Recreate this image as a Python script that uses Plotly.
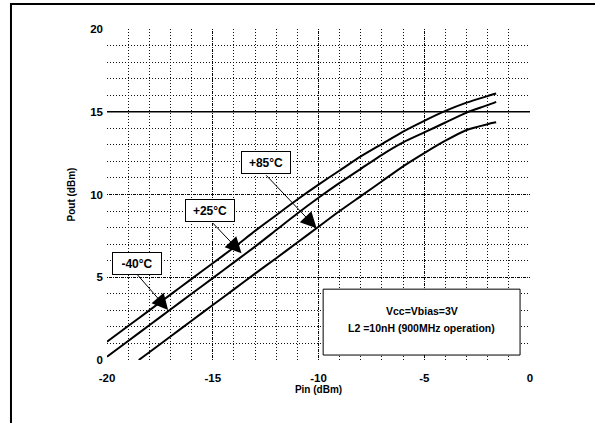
import plotly.graph_objects as go

# Data
pin_top = [-20, -19, -18, -17, -16, -15, -14, -13, -12, -11, -10, -9, -8, -7, -6, -5, -4, -3, -2, -1.6]
pout_top = [1.1, 2.05, 3.0, 3.95, 4.9, 5.85, 6.8, 7.8, 8.75, 9.7, 10.6, 11.45, 12.3, 13.05, 13.8, 14.45, 15.05, 15.55, 15.95, 16.1]

pin_mid = [-20, -19, -18, -17, -16, -15, -14, -13, -12, -11, -10, -9, -8, -7, -6, -5, -4, -3, -2, -1.6]
pout_mid = [0.2, 1.15, 2.1, 3.05, 4.0, 4.95, 5.9, 6.85, 7.85, 8.85, 9.8, 10.7, 11.55, 12.4, 13.15, 13.75, 14.35, 14.95, 15.4, 15.6]

pin_bot = [-18.5, -18, -17, -16, -15, -14, -13, -12, -11, -10, -9, -8, -7, -6, -5, -4, -3, -2, -1.6]
pout_bot = [0.0, 0.47, 1.42, 2.37, 3.32, 4.27, 5.22, 6.15, 7.1, 8.05, 9.0, 9.9, 10.8, 11.7, 12.5, 13.25, 13.9, 14.25, 14.36]

x_ticks = [-20, -15, -10, -5, 0]
y_ticks = [0, 5, 10, 15, 20]

FONT = "Liberation Sans"

fig = go.Figure()
for xs, ys in [(pin_top, pout_top), (pin_mid, pout_mid), (pin_bot, pout_bot)]:
    fig.add_trace(go.Scatter(x=xs, y=ys, mode="lines",
                             line=dict(color="black", width=2, shape="spline", smoothing=0.6),
                             showlegend=False, hoverinfo="skip"))

axis_common = dict(
    showgrid=True, gridcolor="black", gridwidth=1.3, griddash="1px,1px",
    zeroline=False, showline=False, ticks="",
    tickfont=dict(family=FONT, size=11.5, color="black", weight="bold"),
    minor=dict(dtick=1, showgrid=True, gridcolor="#111", gridwidth=1, griddash="1px,2px"),
)

fig.update_xaxes(range=[-20, 0], tickvals=x_ticks, ticktext=[str(v) for v in x_ticks],
                 ticklabelstandoff=9,
                 title=dict(text="Pin (dBm)", font=dict(family=FONT, size=10, color="black", weight="bold"), standoff=3),
                 **axis_common)
fig.update_yaxes(range=[0, 20], tickvals=y_ticks, ticktext=[str(v) for v in y_ticks],
                 ticklabelstandoff=3,
                 title=dict(text="Pout (dBm)", font=dict(family=FONT, size=10, color="black", weight="bold"), standoff=12),
                 **axis_common)

shapes = [
    # solid line at 15
    dict(type="line", xref="x", yref="y", x0=-20, x1=0, y0=15, y1=15,
         line=dict(color="black", width=1.5)),
    # info box
    dict(type="rect", xref="x", yref="y", x0=-9.78, x1=-0.47, y0=0.3, y1=4.28,
         line=dict(color="black", width=1), fillcolor="white", layer="above"),
    # outer frame (left & top visible)
    dict(type="rect", xref="paper", yref="paper", x0=-0.227, x1=1.4, y0=-0.4, y1=1.0755,
         line=dict(color="black", width=2)),
]

annotations = []
labels = [
    ("+85°C", -12.5, 11.93, -12.54, 11.25, -10.09, 7.96),
    ("+25°C", -15.12, 9.02, -15.06, 8.36, -13.64, 6.45),
    ("-40°C", -18.59, 5.85, -18.69, 5.34, -17.11, 3.02),
]
for txt, bx, by, tx, ty, hx, hy in labels:
    annotations.append(dict(x=hx, y=hy, ax=tx, ay=ty, xref="x", yref="y", axref="x", ayref="y",
                            text="", showarrow=True, arrowhead=2, arrowsize=3.2, arrowwidth=1,
                            arrowcolor="black", standoff=0))
    annotations.append(dict(x=bx, y=by, xref="x", yref="y", text=txt, showarrow=False,
                            font=dict(family=FONT, size=12, color="black", weight="bold"),
                            bgcolor="white", bordercolor="black", borderwidth=1,
                            width=44, height=17, borderpad=2))

annotations.append(dict(x=-5.12, y=2.95, xref="x", yref="y", text="Vcc=Vbias=3V", showarrow=False,
                        font=dict(family=FONT, size=10.5, color="black", weight="bold")))
annotations.append(dict(x=-5.12, y=1.95, xref="x", yref="y", text="L2 =10nH (900MHz operation)", showarrow=False,
                        font=dict(family=FONT, size=10.5, color="black", weight="bold")))

fig.update_layout(
    width=595, height=423,
    margin=dict(l=107, r=65, t=29, b=63),
    paper_bgcolor="white", plot_bgcolor="white",
    shapes=shapes, annotations=annotations,
    showlegend=False,
)

fig.write_html("out.html", config={"displayModeBar": False},
               post_script="document.body.style.margin='0';document.body.style.overflow='hidden';")
